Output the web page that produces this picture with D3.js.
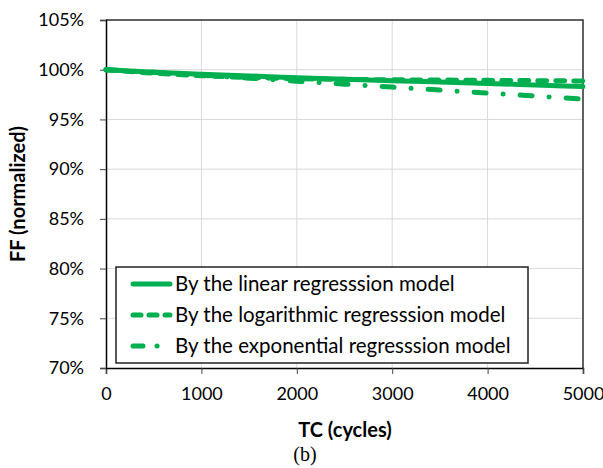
<!DOCTYPE html>
<html>
<head>
<meta charset="utf-8">
<script src="https://cdn.jsdelivr.net/npm/d3@7"></script>
<style>
  html, body { margin: 0; padding: 0; background: #fff; }
  svg text { font-family: Lato, "Open Sans", sans-serif; fill: #000; }
</style>
</head>
<body>
<svg id="chart" width="603" height="468"></svg>
<script>
// Thermal-cycling fill factor predictions (normalized)
const cycles = [0, 500, 1000, 1500, 2000, 2500, 3000, 3500, 4000, 4500, 5000];
const linearFF = [100, 99.75, 99.55, 99.38, 99.2, 99.05, 98.9, 98.76, 98.62, 98.46, 98.3];
const logFF = [100, 99.65, 99.4, 99.22, 99.1, 99.03, 98.99, 98.96, 98.93, 98.9, 98.87];
const expFF = [100, 99.75, 99.45, 99.15, 98.85, 98.55, 98.25, 97.95, 97.65, 97.35, 97.05];
const seriesNames = [
  "By the linear regresssion model",
  "By the logarithmic regresssion model",
  "By the exponential regresssion model"
];
const xTicks = [0, 1000, 2000, 3000, 4000, 5000];
const yTicks = [70, 75, 80, 85, 90, 95, 100, 105];

const green = "#00b050";
const dashStyles = [null, "9,9", "12,17,0.1,17"];
const legendDash = [null, "8,8", "10,14,0.1,14"];

const svg = d3.select("#chart");
const plotL = 106, plotR = 583, plotT = 20, plotB = 368;

const x = d3.scaleLinear().domain([0, 5000]).range([plotL, plotR]);
const y = d3.scaleLinear().domain([70, 105]).range([plotB, plotT]);

// grid
svg.append("g").selectAll("line").data(xTicks.slice(1)).join("line")
  .attr("x1", d => x(d)).attr("x2", d => x(d))
  .attr("y1", plotT).attr("y2", plotB)
  .attr("stroke", "#d9d9d9").attr("stroke-width", 1);
svg.append("g").selectAll("line").data(yTicks.slice(1)).join("line")
  .attr("x1", plotL).attr("x2", plotR)
  .attr("y1", d => y(d)).attr("y2", d => y(d))
  .attr("stroke", "#d9d9d9").attr("stroke-width", 1);

// plot frame (top and right)
svg.append("path")
  .attr("d", `M${plotL},${plotT}H${plotR}V${plotB}`)
  .attr("fill", "none").attr("stroke", "#333").attr("stroke-width", 1.5);

// axes
const xAxis = svg.append("g").attr("transform", `translate(0,${plotB})`)
  .call(d3.axisBottom(x).tickValues(xTicks).tickSize(6).tickPadding(13).tickFormat(d3.format("d")));
const yAxis = svg.append("g").attr("transform", `translate(${plotL},0)`)
  .call(d3.axisLeft(y).tickValues(yTicks).tickSize(6).tickPadding(16).tickFormat(d => d + "%"));
[xAxis, yAxis].forEach(a => {
  a.select(".domain").attr("stroke", "#000").attr("stroke-width", 1.5);
  a.selectAll(".tick line").attr("stroke", "#444").attr("stroke-width", 1);
  a.selectAll(".tick text").attr("font-size", 18).attr("font-family", "Lato, sans-serif").attr("fill", "#000");
});

// series lines
const allSeries = [linearFF, logFF, expFF];
const line = d3.line().x((d, i) => x(cycles[i])).y(d => y(d)).curve(d3.curveMonotoneX);
const drawOrder = [2, 1, 0];
drawOrder.forEach(k => {
  svg.append("path")
    .datum(allSeries[k])
    .attr("d", line)
    .attr("fill", "none")
    .attr("stroke", green)
    .attr("stroke-width", 5)
    .attr("stroke-linecap", "round")
    .attr("stroke-dasharray", dashStyles[k]);
});

// legend
const lg = svg.append("g");
lg.append("rect").attr("x", 116).attr("y", 267).attr("width", 412).attr("height", 96)
  .attr("fill", "#fff").attr("stroke", "#222").attr("stroke-width", 1.5);
const rowY = [284, 315, 346];
seriesNames.forEach((name, k) => {
  lg.append("line")
    .attr("x1", 133).attr("x2", 170)
    .attr("y1", rowY[k]).attr("y2", rowY[k])
    .attr("stroke", green).attr("stroke-width", 5)
    .attr("stroke-linecap", "round")
    .attr("stroke-dasharray", legendDash[k]);
  lg.append("text")
    .attr("x", 175).attr("y", rowY[k]).attr("dy", "0.35em")
    .attr("font-size", 20.5)
    .text(name);
});

// axis titles
svg.append("text")
  .attr("x", 345).attr("y", 437)
  .attr("text-anchor", "middle").attr("font-size", 20).attr("font-weight", "bold")
  .text("TC (cycles)");
svg.append("text")
  .attr("transform", `translate(25,${(plotT + plotB) / 2}) rotate(-90)`)
  .attr("text-anchor", "middle").attr("font-size", 20).attr("font-weight", "bold")
  .text("FF (normalized)");
svg.append("text")
  .attr("x", 305).attr("y", 461)
  .attr("text-anchor", "middle").attr("font-size", 20)
  .style("font-family", "'Liberation Serif', 'Times New Roman', serif")
  .text("(b)");
</script>
</body>
</html>
